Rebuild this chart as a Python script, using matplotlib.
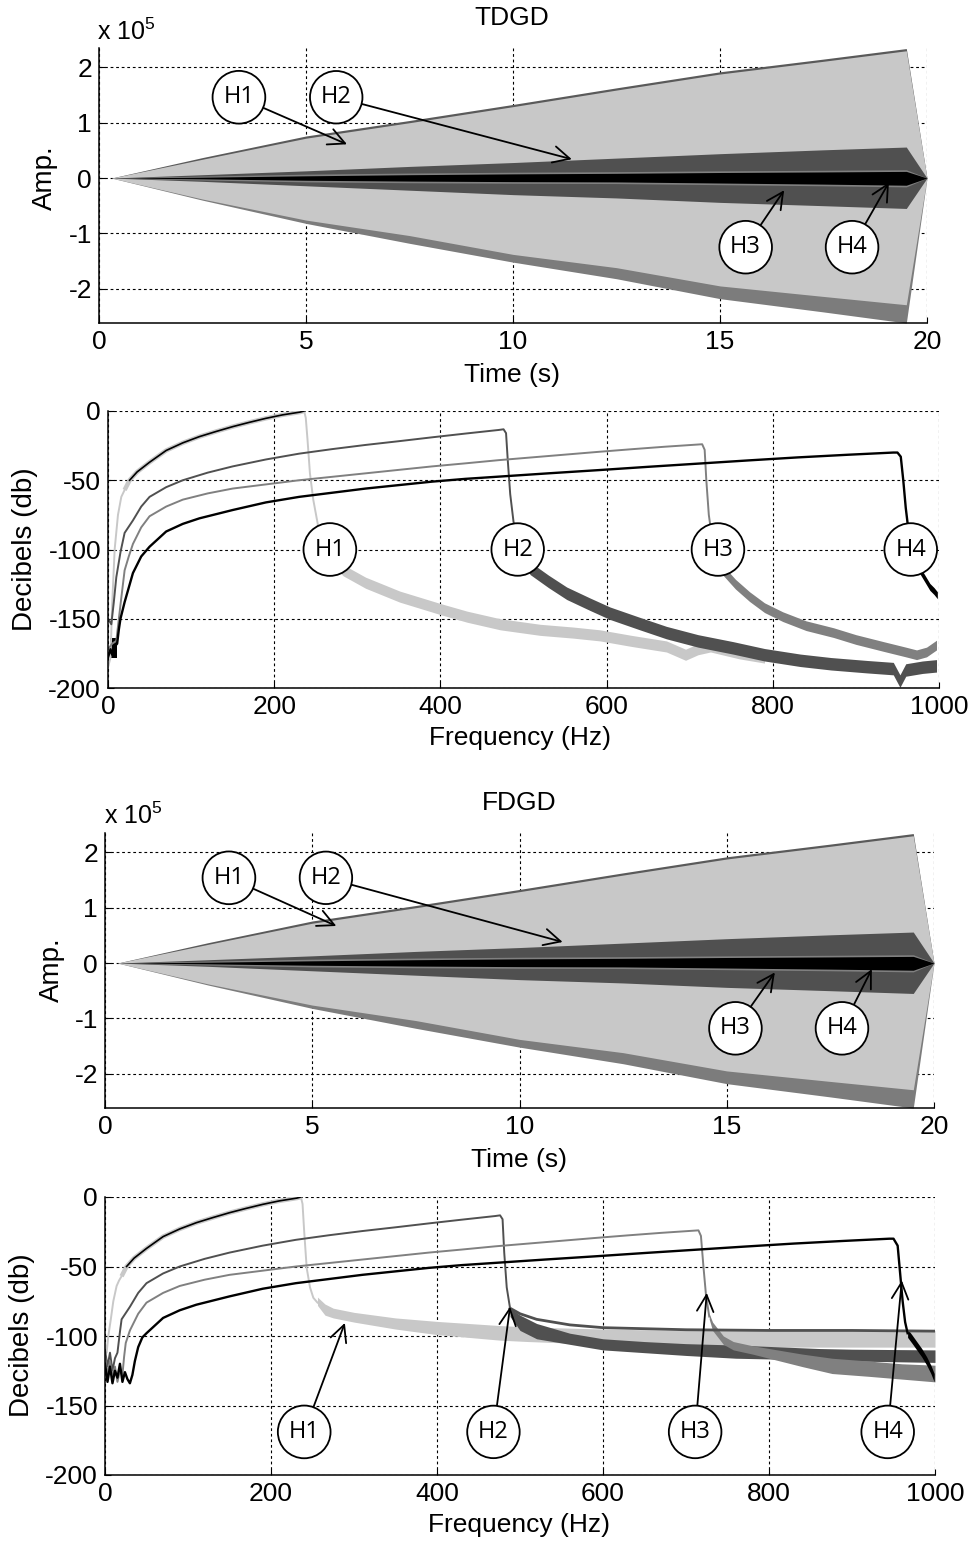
import numpy as np
import matplotlib
matplotlib.use('Agg')
import matplotlib.pyplot as plt

plt.rcParams['font.family'] = ['Liberation Sans', 'DejaVu Sans']
plt.rcParams['mathtext.fontset'] = 'custom'
plt.rcParams['mathtext.rm'] = 'Liberation Sans'
plt.rcParams['mathtext.it'] = 'Liberation Sans'

W, H = 975, 1544
C_H1, C_H2, C_H3, C_H4 = '#c8c8c8', '#505050', '#808080', '#000000'
C_TOP, C_BOT = '#5a5a5a', '#7c7c7c'

# ---------------- time-domain envelopes (x 1e5) ----------------
t_env = [0, 0.3, 2.5, 5, 7.5, 10, 12.5, 15, 17.5, 19.5, 20]
env_outer_up = [0, 0, 0.37, 0.76, 1.04, 1.33, 1.63, 1.92, 2.15, 2.34, 0]
env_outer_lo = [0, 0, -0.40, -0.82, -1.18, -1.52, -1.82, -2.18, -2.42, -2.62, 0]
env_h1_up = [0, 0, 0.34, 0.72, 1.00, 1.29, 1.59, 1.88, 2.11, 2.30, 0]
env_h1_lo = [0, 0, -0.38, -0.76, -1.04, -1.38, -1.62, -1.95, -2.14, -2.29, 0]
env_h2_up = [0, 0, 0.06, 0.13, 0.21, 0.28, 0.36, 0.44, 0.51, 0.56, 0]
env_h2_lo = [0, 0, -0.06, -0.14, -0.22, -0.30, -0.36, -0.44, -0.50, -0.55, 0]
env_h3_up = [0, 0, 0.035, 0.07, 0.09, 0.105, 0.115, 0.13, 0.14, 0.15, 0]
env_h3_lo = [0, 0, -0.035, -0.07, -0.085, -0.095, -0.10, -0.12, -0.14, -0.16, 0]
env_h4_up = [0, 0, 0.015, 0.04, 0.06, 0.075, 0.085, 0.10, 0.11, 0.12, 0]
env_h4_lo = [0, 0, -0.015, -0.04, -0.055, -0.065, -0.07, -0.09, -0.11, -0.13, 0]

# ---------------- spectra: shared rising parts (dB) ----------------
h1_rise_f = [20, 26, 35, 50, 70, 90, 110, 130, 150, 170, 190, 210, 231, 236]
h1_rise_db = [-57, -50, -44, -37, -28.5, -23, -18.5, -14.8, -11.3, -8.2, -5.3, -2.8, -0.8, 0]
h2_rise_f = [20, 30, 40, 50, 70, 90, 120, 150, 190, 230, 270, 310, 350, 390, 430, 470, 476]
h2_rise_db = [-88, -79, -69, -62, -55, -50, -44.5, -40, -35, -30.8, -27.5, -24.5, -21.8, -19, -16.3, -13.7, -13.2]
h3_rise_f = [25, 30, 40, 50, 70, 90, 120, 150, 190, 230, 270, 310, 350, 390, 430, 470, 510, 550, 590, 630, 670, 710, 715]
h3_rise_db = [-105, -96, -84, -76, -69, -64, -59.5, -56, -53, -50, -47.5, -45, -42.5, -40, -37.8, -35.5, -33.5, -31.5, -29.5, -27.6, -25.8, -24.2, -24]
h4_rise_f = [50, 70, 90, 110, 150, 190, 230, 270, 310, 350, 390, 430, 470, 530, 590, 650, 710, 770, 830, 890, 945, 950]
h4_rise_db = [-98, -87, -81.5, -77.5, -71.5, -66, -62, -59, -56, -53.5, -51, -49, -47.4, -45, -42.7, -40.3, -38, -35.7, -33.5, -31.6, -30, -30]

# ---------------- TDGD spectrum ----------------
t_h1_pre_f = [0, 3, 5, 8, 12, 16]
t_h1_pre_db = [-185, -178, -140, -100, -75, -62]
t_h2_pre_f = [0, 4, 7, 10, 15]
t_h2_pre_db = [-150, -154, -138, -120, -102]
t_h3_pre_f = [0, 5, 10, 15, 20]
t_h3_pre_db = [-172, -168, -166, -140, -115]
t_h4_pre_f = [0, 3, 5, 8, 11, 13, 15, 20, 30, 40]
t_h4_pre_db = [-178, -172, -176, -170, -168, -158, -150, -138, -117, -105]
t_h4_blob_f = [3, 11]
t_h4_blob_lo = [-178, -178]
t_h4_blob_hi = [-164, -164]

t_h1_drop_f = [236, 238, 240, 243, 247, 253, 260]
t_h1_drop_db = [0, -5, -20, -45, -64, -83.5, -95]
t_h2_drop_f = [476, 479, 481, 484, 488, 492]
t_h2_drop_db = [-13.2, -16, -35, -60, -80, -92]
t_h3_drop_f = [715, 718, 720, 723, 727]
t_h3_drop_db = [-24, -28, -50, -75, -92]
t_h4_drop_f = [950, 954, 957, 960, 963, 966]
t_h4_drop_db = [-30, -33, -50, -70, -85, -92]

t_h1_tail_f = [262, 270, 283, 310, 351, 400, 432, 472, 520, 560, 592, 630, 672, 695, 710, 725, 760, 790]
t_h1_tail_db = [-95, -107, -115, -124, -134, -143, -148.5, -154, -158, -160, -162, -166, -170, -176, -172, -170, -175, -178]
t_h2_tail_f = [492, 500, 508, 530, 552, 580, 604, 640, 672, 710, 752, 790, 833, 870, 913, 945, 953, 960, 980, 997]
t_h2_tail_db = [-92, -105, -113.6, -123, -131.6, -139.5, -146, -153.5, -160, -166, -171, -176, -180, -182.5, -184.6, -186, -195, -187, -185, -184]
t_h3_tail_f = [727, 735, 740, 755, 772, 790, 812, 840, 873, 900, 933, 960, 973, 985, 997]
t_h3_tail_db = [-92, -105, -115, -125, -134, -142, -148.5, -155, -160, -165, -170, -174, -176, -174, -169]
t_h4_tail_f = [966, 970, 977, 983, 989, 994, 998]
t_h4_tail_db = [-92, -105, -115, -121, -127, -130, -133]
t_tail_halfwidth = [4.0, 4.5, 3.5, 2.5]

# ---------------- FDGD spectrum ----------------
f_h1_pre_f = [0, 2, 4, 7, 10, 14, 17]
f_h1_pre_db = [-105, -112, -100, -88, -75, -64, -60]
f_h2_pre_f = [0, 3, 6, 9, 12, 15, 18]
f_h2_pre_db = [-110, -122, -112, -125, -116, -112, -97]
f_h3_pre_f = [0, 3, 6, 9, 12, 15, 18, 21, 23]
f_h3_pre_db = [-115, -128, -118, -130, -122, -133, -125, -128, -115]
f_h4_pre_f = [0, 3, 6, 9, 12, 15, 18, 21, 24, 27, 30, 33, 36, 40, 45]
f_h4_pre_db = [-120, -133, -122, -134, -125, -130, -120, -133, -126, -131, -134, -128, -118, -108, -101]

f_h1_drop_f = [236, 238, 240, 243, 247, 251, 256]
f_h1_drop_db = [0, -5, -25, -51, -65, -72.5, -76]
f_h2_drop_f = [476, 479, 481, 484, 488]
f_h2_drop_db = [-13.2, -16, -40, -65, -80]
f_h3_drop_f = [715, 718, 721, 724, 728]
f_h3_drop_db = [-24, -28, -50, -70, -86]
f_h4_drop_f = [950, 955, 958, 961, 964, 967]
f_h4_drop_db = [-30, -35, -55, -75, -90, -98]

f_h1_tail_f = [256, 265, 275, 300, 350, 400, 476, 510, 600, 700, 800, 900, 1000]
f_h1_tail_hi = [-72, -77, -80, -83, -87, -89.5, -92.5, -93.5, -95, -96, -96, -96, -96]
f_h1_tail_lo = [-78, -85, -87, -90, -95, -99, -103, -104, -106, -107, -108, -108, -108]
f_h2_line_f = [488, 500, 520, 560, 600, 700, 800, 900, 1000]
f_h2_line_db = [-80, -84, -88, -92, -94, -95.5, -96, -96, -96.5]
f_h2_tail_f = [488, 500, 520, 560, 600, 650, 700, 760, 800, 860, 900, 1000]
f_h2_tail_hi = [-80, -85, -91, -98, -102, -104, -105.5, -106.5, -107.5, -109, -109.5, -110]
f_h2_tail_lo = [-86, -96, -102, -106, -110, -112, -114, -116, -116.5, -117.5, -118, -119]
f_h3_tail_f = [728, 732, 745, 757, 780, 800, 840, 876, 920, 960, 1000]
f_h3_tail_hi = [-84, -90, -100, -104, -107, -109, -113, -116, -118, -120, -121]
f_h3_tail_lo = [-88, -96, -106, -110, -113, -116, -122, -127, -129, -131, -133]
f_h4_tail_f = [967, 972, 978, 984, 990, 995, 999]
f_h4_tail_db = [-98, -102, -107, -112, -118, -124, -130]

# ---------------- annotation positions ----------------
labels = ['H1', 'H2', 'H3', 'H4']
tdgd_lab_t = [3.38, 5.73, 15.62, 18.19]
tdgd_lab_y = [1.46, 1.46, -1.25, -1.25]
tdgd_tip_t = [5.99, 11.42, 16.55, 19.08]
tdgd_tip_y = [0.61, 0.34, -0.22, -0.08]
fdgd_lab_t = [2.99, 5.33, 15.21, 17.78]
fdgd_lab_y = [1.54, 1.54, -1.18, -1.18]
fdgd_tip_t = [5.58, 11.04, 16.16, 18.50]
fdgd_tip_y = [0.67, 0.38, -0.17, -0.11]
spec1_lab_f = [267, 493, 734, 966]
spec1_lab_db = [-100, -100, -100, -100]
spec2_lab_f = [240, 468, 711, 943]
spec2_lab_db = [-169, -169, -169, -169]
spec2_tip_f = [289, 488, 725, 960]
spec2_tip_db = [-90.6, -79, -69, -60]

time_ticks = [0, 5, 10, 15, 20]
amp_ticks = [-2, -1, 0, 1, 2]
freq_ticks = [0, 200, 400, 600, 800, 1000]
db_ticks = [-200, -150, -100, -50, 0]

# ============================================================
fig = plt.figure(figsize=(W / 100, H / 100), dpi=100)

def P(x, y):
    return x / W, 1 - y / H

def axes_px(l, t, r, b):
    return fig.add_axes([l / W, 1 - b / H, (r - l) / W, (b - t) / H])

TICK_FS = 19
LAB_FS = 19
CIRC_BBOX = dict(boxstyle='circle,pad=0.46', fc='white', ec='black', lw=1.3)
H_FONT = dict(family=['Open Sans', 'DejaVu Sans'], fontsize=17)
ARROW = dict(arrowstyle='->,head_length=0.7,head_width=0.35',
             color='black', lw=1.3, shrinkA=0, shrinkB=0)

def style(ax):
    ax.set_axisbelow(True)
    ax.grid(True, color='black', linestyle=(0, (2.5, 2.5)), linewidth=0.8)
    for s in ['top', 'right']:
        ax.spines[s].set_visible(False)
    for s in ['left', 'bottom']:
        ax.spines[s].set_linewidth(1.1)
    ax.tick_params(direction='in', length=4, labelsize=TICK_FS, pad=5)

def time_panel(ax, lab_t, lab_y, tip_t, tip_y):
    ax.fill_between(t_env, 0, env_outer_up, color=C_TOP, lw=0)
    ax.fill_between(t_env, env_outer_lo, 0, color=C_BOT, lw=0)
    ax.fill_between(t_env, env_h1_lo, env_h1_up, color=C_H1, lw=0)
    ax.fill_between(t_env, env_h2_lo, env_h2_up, color=C_H2, lw=0)
    ax.fill_between(t_env, env_h3_lo, env_h3_up, color=C_H3, lw=0)
    ax.fill_between(t_env, env_h4_lo, env_h4_up, color=C_H4, lw=0)
    ax.set_xlim(0, 20)
    ax.set_ylim(-2.62, 2.35)
    ax.set_xticks(time_ticks)
    ax.set_xticklabels([str(v) for v in time_ticks])
    ax.set_yticks(amp_ticks)
    ax.set_yticklabels([str(v) for v in amp_ticks])
    style(ax)
    for i, lab in enumerate(labels):
        ax.annotate(lab, xy=(tip_t[i], tip_y[i]), xytext=(lab_t[i], lab_y[i]),
                    ha='center', va='center', bbox=CIRC_BBOX, zorder=10,
                    arrowprops=ARROW, **H_FONT)

def band(ax, f, c, hw, color):
    c = np.asarray(c, float)
    ax.fill_between(f, c - hw, c + hw, color=color, lw=0)

def spec_axes_setup(ax):
    ax.set_xlim(0, 1000)
    ax.set_ylim(-200, 0)
    ax.set_xticks(freq_ticks)
    ax.set_xticklabels([str(v) for v in freq_ticks])
    ax.set_yticks(db_ticks)
    ax.set_yticklabels([str(v) for v in db_ticks])
    style(ax)

# ---------- panel 1: TDGD time ----------
ax1 = axes_px(99, 48, 927, 323)
time_panel(ax1, tdgd_lab_t, tdgd_lab_y, tdgd_tip_t, tdgd_tip_y)

# ---------- panel 2: TDGD spectrum ----------
ax2 = axes_px(108, 411, 939, 688)
LW = 1.4
ax2.plot(t_h1_pre_f + h1_rise_f + t_h1_drop_f, t_h1_pre_db + h1_rise_db + t_h1_drop_db,
         color=C_H1, lw=LW)
ax2.plot(h1_rise_f, h1_rise_db, color=C_H1, lw=3.2, solid_capstyle='butt')
band(ax2, t_h1_tail_f, t_h1_tail_db, t_tail_halfwidth[0], C_H1)
ax2.plot(h1_rise_f[1:], h1_rise_db[1:], color='black', lw=1.2)
ax2.plot(t_h2_pre_f + h2_rise_f + t_h2_drop_f, t_h2_pre_db + h2_rise_db + t_h2_drop_db,
         color=C_H2, lw=LW)
band(ax2, t_h2_tail_f, t_h2_tail_db, t_tail_halfwidth[1], C_H2)
ax2.plot(t_h3_pre_f + h3_rise_f + t_h3_drop_f, t_h3_pre_db + h3_rise_db + t_h3_drop_db,
         color=C_H3, lw=LW)
band(ax2, t_h3_tail_f, t_h3_tail_db, t_tail_halfwidth[2], C_H3)
ax2.plot(t_h4_pre_f + h4_rise_f + t_h4_drop_f, t_h4_pre_db + h4_rise_db + t_h4_drop_db,
         color=C_H4, lw=1.7)
ax2.fill_between(t_h4_blob_f, t_h4_blob_lo, t_h4_blob_hi, color=C_H4, lw=0)
band(ax2, t_h4_tail_f, t_h4_tail_db, t_tail_halfwidth[3], C_H4)
spec_axes_setup(ax2)
for i, lab in enumerate(labels):
    ax2.text(spec1_lab_f[i], spec1_lab_db[i], lab, ha='center', va='center',
             bbox=CIRC_BBOX, zorder=10, **H_FONT)

# ---------- panel 3: FDGD time ----------
ax3 = axes_px(105, 833, 934, 1108)
time_panel(ax3, fdgd_lab_t, fdgd_lab_y, fdgd_tip_t, fdgd_tip_y)

# ---------- panel 4: FDGD spectrum ----------
ax4 = axes_px(105, 1197, 935, 1475)
ax4.plot(f_h1_pre_f + h1_rise_f + f_h1_drop_f, f_h1_pre_db + h1_rise_db + f_h1_drop_db,
         color=C_H1, lw=LW)
ax4.plot(h1_rise_f, h1_rise_db, color=C_H1, lw=3.2, solid_capstyle='butt')
ax4.fill_between(f_h1_tail_f, f_h1_tail_lo, f_h1_tail_hi, color=C_H1, lw=0)
ax4.plot(h1_rise_f[1:], h1_rise_db[1:], color='black', lw=1.2)
ax4.plot(f_h2_pre_f + h2_rise_f + f_h2_drop_f, f_h2_pre_db + h2_rise_db + f_h2_drop_db,
         color=C_H2, lw=LW)
ax4.plot(f_h2_line_f, f_h2_line_db, color=C_H2, lw=2.0)
ax4.fill_between(f_h2_tail_f, f_h2_tail_lo, f_h2_tail_hi, color=C_H2, lw=0)
ax4.plot(f_h3_pre_f + h3_rise_f + f_h3_drop_f, f_h3_pre_db + h3_rise_db + f_h3_drop_db,
         color=C_H3, lw=LW)
ax4.fill_between(f_h3_tail_f, f_h3_tail_lo, f_h3_tail_hi, color=C_H3, lw=0)
ax4.plot(f_h4_pre_f + h4_rise_f + f_h4_drop_f, f_h4_pre_db + h4_rise_db + f_h4_drop_db,
         color=C_H4, lw=1.7)
band(ax4, f_h4_tail_f, f_h4_tail_db, 3.0, C_H4)
spec_axes_setup(ax4)
for i, lab in enumerate(labels):
    ax4.annotate(lab, xy=(spec2_tip_f[i], spec2_tip_db[i]),
                 xytext=(spec2_lab_f[i], spec2_lab_db[i]),
                 ha='center', va='center', bbox=CIRC_BBOX, zorder=10,
                 arrowprops=ARROW, **H_FONT)

# ---------- texts ----------
fig.text(*P(512, 18), 'TDGD', ha='center', va='center', fontsize=LAB_FS)
fig.text(*P(519, 803), 'FDGD', ha='center', va='center', fontsize=LAB_FS)
fig.text(*P(97, 32), r'x 10$^{5}$', ha='left', va='center', fontsize=18)
fig.text(*P(104, 816), r'x 10$^{5}$', ha='left', va='center', fontsize=18)
fig.text(*P(45, 178), 'Amp.', ha='center', va='center', rotation=90, fontsize=20)
fig.text(*P(52, 970), 'Amp.', ha='center', va='center', rotation=90, fontsize=20)
fig.text(*P(25, 549), 'Decibels (db)', ha='center', va='center', rotation=90, fontsize=20)
fig.text(*P(22, 1335), 'Decibels (db)', ha='center', va='center', rotation=90, fontsize=20)
fig.text(*P(512, 375), 'Time (s)', ha='center', va='center', fontsize=LAB_FS)
fig.text(*P(520, 738), 'Frequency (Hz)', ha='center', va='center', fontsize=LAB_FS)
fig.text(*P(519, 1160), 'Time (s)', ha='center', va='center', fontsize=LAB_FS)
fig.text(*P(519, 1525), 'Frequency (Hz)', ha='center', va='center', fontsize=LAB_FS)

fig.savefig('out.png', dpi=100)
